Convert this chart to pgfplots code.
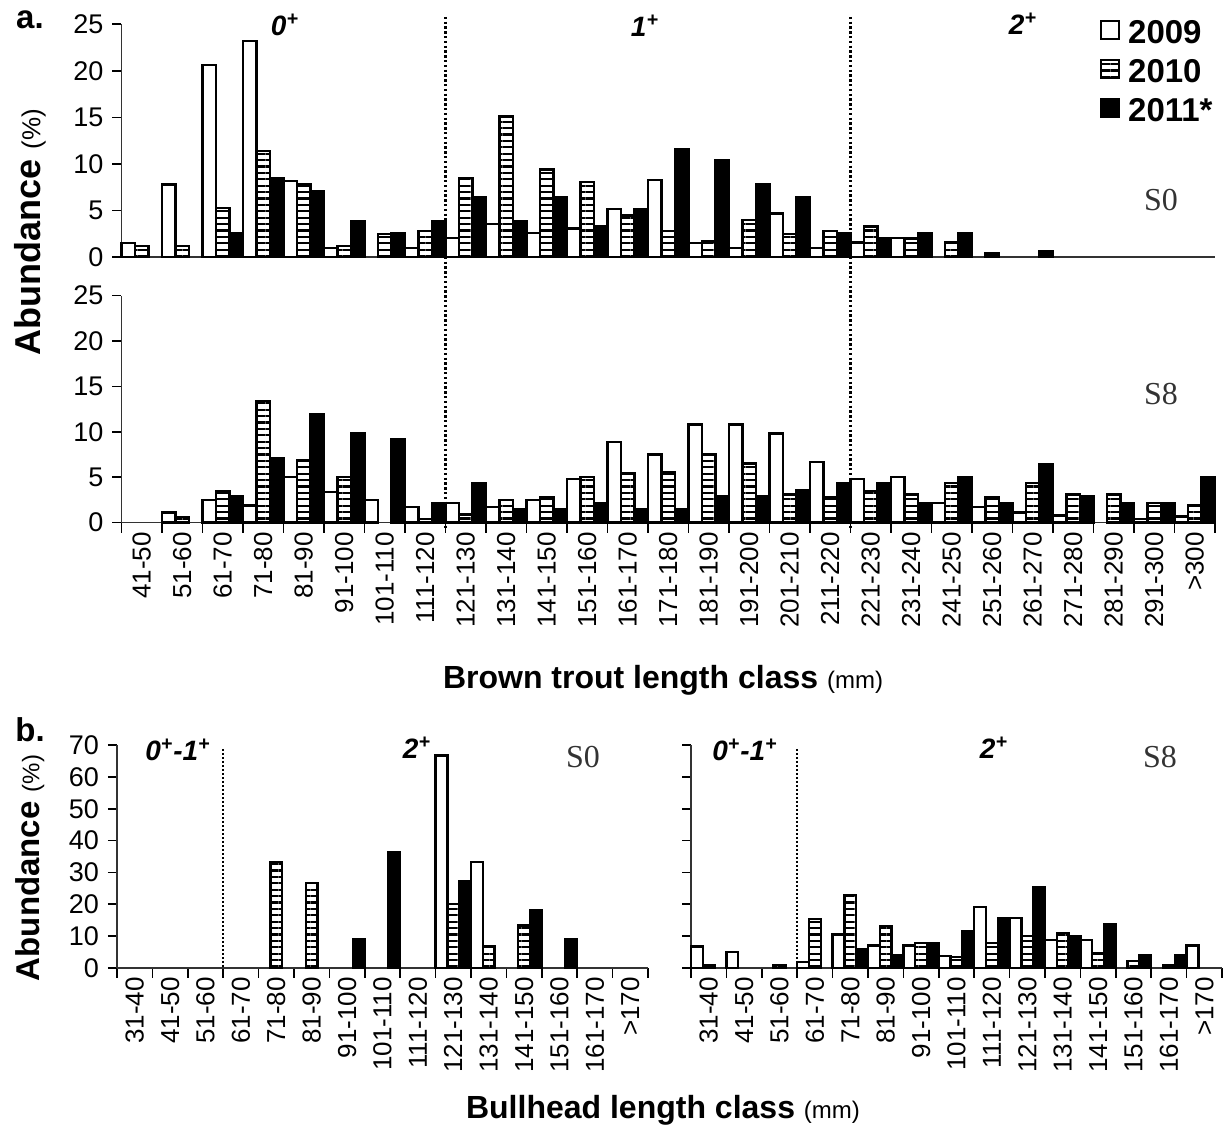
\documentclass[border=0pt]{standalone}
\usepackage{fontspec}
\setmainfont{Liberation Sans}
\newfontfamily\timesfont{Liberation Serif}
\usepackage{pgfplots}
\usepackage{pgfplotstable}
\pgfplotsset{compat=1.18}
\usetikzlibrary{patterns.meta}

% Brown trout, length-class abundance (%), site S0
\pgfplotstableread{
idx y2009 y2010 y2011
0  1.5  1.2  0
1  7.8  1.2  0
2  20.6 5.3  2.6
3  23.2 11.4 8.5
4  8.2  7.8  7.1
5  1.0  1.2  3.9
6  0    2.5  2.6
7  1.0  2.8  3.9
8  2.1  8.5  6.5
9  3.6  15.1 3.9
10 2.6  9.4  6.5
11 3.1  8.1  3.3
12 5.2  4.5  5.2
13 8.3  2.8  11.6
14 1.5  1.7  10.4
15 1.0  4.0  7.8
16 4.7  2.5  6.5
17 1.0  2.8  2.6
18 1.6  3.3  2.0
19 2.1  2.0  2.6
20 0    1.6  2.6
21 0    0.4  0
22 0    0    0.7
23 0    0    0
24 0    0    0
25 0    0    0
26 0    0    0
}\troutSzero

% Brown trout, site S8
\pgfplotstableread{
idx y2009 y2010 y2011
0  0    0    0
1  1.1  0.6  0
2  2.5  3.5  2.9
3  1.9  13.4 7.1
4  5.0  6.9  12.0
5  3.4  5.0  9.9
6  2.5  0    9.2
7  1.7  0.4  2.2
8  2.2  0.9  4.3
9  1.7  2.5  1.5
10 2.5  2.8  1.5
11 4.8  5.0  2.2
12 8.9  5.4  1.5
13 7.5  5.6  1.5
14 10.8 7.5  2.9
15 10.8 6.5  2.9
16 9.8  3.1  3.6
17 6.7  2.8  4.3
18 4.8  3.5  4.3
19 5.0  3.1  2.2
20 2.2  4.4  5.0
21 1.7  2.8  2.2
22 1.1  4.4  6.4
23 0.8  3.1  2.9
24 0    3.1  2.2
25 0.4  2.2  2.2
26 0.7  1.9  5.0
}\troutSeight

% Bullhead, site S0
\pgfplotstableread{
idx y2009 y2010 y2011
0  0    0    0
1  0    0    0
2  0    0    0
3  0    0    0
4  0    33.3 0
5  0    26.7 0
6  0    0    9.1
7  0    0    36.4
8  0    0    0
9  66.7 20.0 27.3
10 33.3 6.7  0
11 0    13.3 18.2
12 0    0    9.1
13 0    0    0
14 0    0    0
}\bullSzero

% Bullhead, site S8
\pgfplotstableread{
idx y2009 y2010 y2011
0  6.8  1.0  0
1  5.1  0    0
2  0    1.0  0
3  1.9  15.4 0
4  10.5 22.9 6.0
5  7.0  13.1 4.0
6  7.0  7.9  7.9
7  3.7  3.5  11.5
8  19.1 7.9  15.6
9  15.6 10.0 25.3
10 8.7  11.0 9.9
11 8.7  4.5  13.6
12 0    2.1  4.0
13 0    1.0  4.0
14 7.0  0    0
}\bullSeight

\pgfplotsset{
  base/.style={
    scale only axis, anchor=south west, clip=false,
    axis x line*=bottom, axis y line*=left,
    axis line style={-, draw=black!80, line width=0.8pt},
    tick align=outside,
    major tick length=4.5pt, minor tick length=5pt,
    every tick/.append style={black, line width=0.8pt},
    every major x tick/.append style={draw=none},
    tick label style={font=\fontsize{13.5}{15}\selectfont},
    xticklabel style={font=\fontsize{13}{15}\selectfont},
    /pgf/number format/assume math mode=true,
    yticklabel style={xshift=-1pt},
    xticklabel style={rotate=90, anchor=east, inner sep=0pt},
    ymin=0,
    restrict y to domain=0.05:100, unbounded coords=discard,
  },
  trout/.style={base, width=546.75pt, xmin=-0.5, xmax=26.5, ymax=25,
    ytick={0,5,...,25}, minor xtick={-0.5,0.5,...,26.5}},
  bull/.style={base, width=265.5pt, height=111.5pt, xmin=-0.5, xmax=14.5, ymax=70,
    ytick={0,10,...,70}, minor xtick={-0.5,0.5,...,14.5},
    xtick={0,...,14},
    xticklabels={31-40,41-50,51-60,61-70,71-80,81-90,91-100,101-110,111-120,121-130,131-140,141-150,151-160,161-170,>170}},
  sqlegend/.style={legend image code/.code={\draw[##1, line width=1pt] (0pt,-2.5pt) rectangle (9pt,6.5pt); \path (12pt,0pt);}},
  bar09/.style={ybar, bar width=0.3333, bar shift=0pt, fill=white, draw=black, line width=1.2pt, sqlegend},
  bar10/.style={ybar, bar width=0.3333, bar shift=0pt, draw=black, line width=1.2pt,
    pattern={Lines[angle=0, distance=3.2pt, line width=1.1pt]}, pattern color=black, sqlegend},
  bar11/.style={ybar, bar width=0.3333, bar shift=0pt, fill=black, draw=black, line width=1.2pt, sqlegend},
}

\newcommand\agefont{\fontsize{14}{16}\selectfont\bfseries\itshape}
\newcommand\sitefont{\timesfont\fontsize{16}{19}\selectfont}

\begin{document}
\begin{tikzpicture}[x=1pt,y=1pt]
\useasboundingbox (0,0) rectangle (611.5,566.5);

% ---------- a. brown trout, S0
\begin{axis}[trout, at={(60.75pt,437.85pt)}, height=116.5pt, xtick=\empty,
  legend style={at={(axis description cs:1,1.025)}, anchor=north east, draw=none, fill=none,
    font=\fontsize{16.5}{19}\selectfont\bfseries, row sep=4.5pt, inner sep=0pt,
    nodes={inner sep=1pt}},
  legend cell align=left]
\addplot[bar09] table[x expr=\thisrow{idx}-1/3, y=y2009] {\troutSzero};
\addplot[bar10] table[x expr=\thisrow{idx}, y=y2010] {\troutSzero};
\addplot[bar11] table[x expr=\thisrow{idx}+1/3, y=y2011] {\troutSzero};
\legend{2009,2010,2011*}
\coordinate (dA) at (axis cs:7.5,25.8);
\coordinate (dB) at (axis cs:17.5,25.8);
\end{axis}

% ---------- a. brown trout, S8
\begin{axis}[trout, at={(60.75pt,305.15pt)}, height=113.5pt,
  xtick={0,...,26},
  xticklabels={41-50,51-60,61-70,71-80,81-90,91-100,101-110,111-120,121-130,131-140,141-150,151-160,161-170,171-180,181-190,191-200,201-210,211-220,221-230,231-240,241-250,251-260,261-270,271-280,281-290,291-300,>300}]
\addplot[bar09] table[x expr=\thisrow{idx}-1/3, y=y2009] {\troutSeight};
\addplot[bar10] table[x expr=\thisrow{idx}, y=y2010] {\troutSeight};
\addplot[bar11] table[x expr=\thisrow{idx}+1/3, y=y2011] {\troutSeight};
\coordinate (eA) at (axis cs:7.5,-0.8);
\coordinate (eB) at (axis cs:17.5,-0.8);
\end{axis}

\draw[black, line width=1.5pt, dash pattern=on 1.2pt off 1.2pt] (dA) -- (eA);
\draw[black, line width=1.5pt, dash pattern=on 1.2pt off 1.2pt] (dB) -- (eB);

% ---------- b. bullhead, S0
\begin{axis}[bull, at={(58.5pt,82.5pt)}]
\addplot[bar09] table[x expr=\thisrow{idx}-1/3, y=y2009] {\bullSzero};
\addplot[bar10] table[x expr=\thisrow{idx}, y=y2010] {\bullSzero};
\addplot[bar11] table[x expr=\thisrow{idx}+1/3, y=y2011] {\bullSzero};
\draw[black, line width=1.1pt, dash pattern=on 1pt off 1pt] (axis cs:2.5,68.8) -- (axis cs:2.5,0);
\end{axis}

% ---------- b. bullhead, S8
\begin{axis}[bull, at={(345.5pt,82.5pt)}, yticklabels=\empty]
\addplot[bar09] table[x expr=\thisrow{idx}-1/3, y=y2009] {\bullSeight};
\addplot[bar10] table[x expr=\thisrow{idx}, y=y2010] {\bullSeight};
\addplot[bar11] table[x expr=\thisrow{idx}+1/3, y=y2011] {\bullSeight};
\draw[black, line width=1.1pt, dash pattern=on 1pt off 1pt] (axis cs:2.5,68.8) -- (axis cs:2.5,0);
\end{axis}

% panel letters, age classes, sites
\node[font=\fontsize{16.5}{19}\selectfont\bfseries] at (15,556.5) {a.};
\node[font=\fontsize{16.5}{19}\selectfont\bfseries] at (15,201.5) {b.};
\node[font=\agefont] at (142.5,554) {0\textsuperscript{+}};
\node[font=\agefont] at (322.5,553.5) {1\textsuperscript{+}};
\node[font=\agefont] at (511.5,554.5) {2\textsuperscript{+}};
\node[font=\agefont] at (89,191.5) {0\textsuperscript{+}-1\textsuperscript{+}};
\node[font=\agefont] at (208.5,192.5) {2\textsuperscript{+}};
\node[font=\agefont] at (372.5,191.5) {0\textsuperscript{+}-1\textsuperscript{+}};
\node[font=\agefont] at (497,192.5) {2\textsuperscript{+}};
\node[font=\sitefont, text=black!80] at (580.5,466.5) {S0};
\node[font=\sitefont, text=black!80] at (580.5,369.5) {S8};
\node[font=\sitefont, text=black!80] at (291.5,188) {S0};
\node[font=\sitefont, text=black!80] at (580,188) {S8};

% axis titles
\node[font=\fontsize{16}{19}\selectfont\bfseries] at (331.5,226.5)
  {Brown trout length class {\mdseries\fontsize{12}{14}\selectfont(mm)}};
\node[font=\fontsize{16}{19}\selectfont\bfseries] at (331.5,11.5)
  {Bullhead length class {\mdseries\fontsize{12}{14}\selectfont(mm)}};
\node[font=\fontsize{18}{21}\selectfont\bfseries, rotate=90] at (15,450.5)
  {Abundance {\mdseries\fontsize{13}{15}\selectfont(\%)}};
\node[font=\fontsize{16.5}{20}\selectfont\bfseries, rotate=90] at (15,132.5)
  {Abundance {\mdseries\fontsize{12}{14}\selectfont(\%)}};
\end{tikzpicture}
\end{document}
